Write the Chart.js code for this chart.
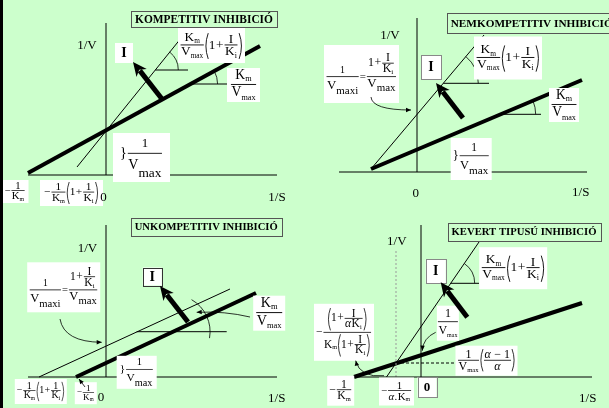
<!DOCTYPE html>
<html>
<head>
<meta charset="utf-8">
<script src="https://cdn.jsdelivr.net/npm/chart.js@4.4.1/dist/chart.umd.min.js"></script>
<style>
  html, body { margin: 0; padding: 0; background: #ccffcc; overflow: hidden; }
  #wrap { position: relative; width: 609px; height: 408px; }
</style>
</head>
<body>
<div id="wrap"><canvas id="c" width="609" height="408"></canvas></div>
<script>
/* ---------- Data: Lineweaver-Burk lines, in (1/S, 1/V) units ---------- */
// panel 1 - competitive
const compBaseX = [-7.8, 15.4], compBaseY = [0.2, 12.9];
const compInhX  = [-2.9, 8.4],  compInhY  = [0.8, 14.8];
// panel 2 - noncompetitive
const noncompBaseX = [-4.6, 16.5], noncompBaseY = [0.3, 9.2];
const noncompInhX  = [-4.6, 6.7],  noncompInhY  = [0.3, 13.7];
// panel 3 - uncompetitive
const uncompBaseX = [-3.0, 15.0], uncompBaseY = [0, 8.4];
const uncompInhX  = [-6.7, 12.4], uncompInhY  = [0, 8.8];
// panel 4 - mixed
const mixedBaseX = [-6.7, 16.1], mixedBaseY = [0, 7.4];
const mixedInhX  = [-3.45, 5.8], mixedInhY  = [0, 13.5];
const mixedGuideX = [-2.5, -2.5], mixedGuideY = [0, 12.6];
const mixedDashX  = [-2.5, 3.5],  mixedDashY  = [1.4, 1.4];

// axes extents per panel
const axisX    = { 1: [-7.8, 17.1], 2: [-7.8, 17.0], 3: [-7.8, 17.1], 4: [-6.7, 17.1] };
const axisYTop = { 1: 15.2, 2: 15.4, 3: 15.2, 4: 15.2 };

// inhibitor arrows (from -> to)
const inhFrom = { 1: [5.6, 7.6], 2: [4.6, 5.4], 3: [8.2, 5.5], 4: [4.63, 5.97] };
const inhTo   = { 1: [2.7, 11.3], 2: [1.9, 8.9], 3: [5.4, 9.1], 4: [1.97, 9.47] };

/* ---------- Layout ---------- */
const W = 609, H = 408, UNIT = 10;
const BG = '#ccffcc';
const ORIGIN = { 1: [106, 175], 2: [417, 172], 3: [106, 377], 4: [421, 377] };
const SERIF = '"Liberation Serif", "Times New Roman", serif';

const lines = {
  compInh:     { p: 1, xs: compInhX, ys: compInhY, w: 1 },
  compBase:    { p: 1, xs: compBaseX, ys: compBaseY, w: 4 },
  noncompInh:  { p: 2, xs: noncompInhX, ys: noncompInhY, w: 1 },
  noncompBase: { p: 2, xs: noncompBaseX, ys: noncompBaseY, w: 4 },
  uncompInh:   { p: 3, xs: uncompInhX, ys: uncompInhY, w: 1 },
  uncompBase:  { p: 3, xs: uncompBaseX, ys: uncompBaseY, w: 4 },
  mixedInh:    { p: 4, xs: mixedInhX, ys: mixedInhY, w: 1 },
  mixedBase:   { p: 4, xs: mixedBaseX, ys: mixedBaseY, w: 4 },
};

// slope markers: horizontal tick + angle arc where a line crosses height y
const slopeMarks = [
  { line: 'compInh', y: 10.5, x1: 8.2, r: 23 },
  { line: 'compBase', y: 9.1, x1: 12.1, r: 27 },
  { line: 'noncompInh', y: 8.87, x1: 7.2, r: 35 },
  { line: 'noncompBase', y: 5.77, x1: 12.4, r: 35 },
  { line: 'uncompBase', y: 4.53, x0: 3.07, x1: 12.07, r: 37, a0: -60, a1: 10 },
  { line: 'mixedInh', y: 9.37, x1: 5.8, r: 24 },
];

// thin curved pointers
const pointers = [
  { p: 2, from: [-4.6, 7.5], via: [-4.5, 6.2], to: [-0.6, 6.2] },
  { p: 3, from: [-4.6, 5.8], via: [-4.2, 3.5], to: [-0.43, 3.47] },
  { p: 3, from: [14.4, 6.0], via: [11.9, 6.6], to: [9.07, 6.47] },
  { p: 3, from: [-2.1, -1.0], via: [-2.4, -0.6], to: [-2.7, -0.2] },
  { p: 4, from: [1.47, 4.47], via: [0.2, 3.9], to: [0.13, 2.63] },
  { p: 4, from: [-3.7, 0.13], via: [-6.1, -0.1], to: [-6.53, 1.63] },
];

/* ---------- Tiny formula layout ---------- */
const AX = 0.27;
const T  = (s, o = {}) => ({ k: 't', s, size: o.size || 12, b: o.b, it: o.it });
const Sb = (base, sub, o = {}) => ({ k: 'sub', base: T(base, { size: o.size || 12 }), sub: T(sub, { size: (o.size || 12) * (o.r || 0.6) }), drop: o.drop || 2 });
const F  = (n, d, o = {}) => ({ k: 'f', n, d, gap: o.gap || 1.5 });
const P  = (i) => ({ k: 'p', i });
const R  = (...c) => ({ k: 'r', c });
const fontOf = (n) => (n.it ? 'italic ' : '') + (n.b ? 'bold ' : '') + n.size + 'px ' + SERIF;

const Km = () => Sb('K', 'm', { r: 0.55, drop: 2 });
const Vmax = () => Sb('V', 'max', { r: 0.55, drop: 2 });
const onePlus = (num) => R(T('1'), T('+'), F(num, Sb('K', 'i', { r: 0.6, drop: 2 })));
const alpha = () => T('α', { it: true });

const fA = () => R(F(Km(), Vmax()), P(onePlus(T('I'))));
const fB = () => F(Sb('K', 'm', { r: 0.6, drop: 2 }), Sb('V', 'max', { r: 0.6, drop: 3 }), { gap: 2.5 });
const fC = () => R(T('}', { size: 13 }), F(T('1'), Sb('V', 'max', { size: 13, r: 0.9, drop: 6 }), { gap: 5 }));
const fCBig = () => R(T('}', { size: 13 }), F(T('1'), Sb('V', 'max', { size: 13, r: 0.95, drop: 7 }), { gap: 6 }));
const fMinusKm = () => R(T('−'), F(T('1'), Km()));
const fE = () => R(T('−'), F(T('1'), Km()), P(onePlus(T('1'))));
const fVmaxi = () => R(
  F(T('1', { size: 10 }), Sb('V', 'maxi', { size: 13, r: 0.85, drop: 5 }), { gap: 4 }),
  T('=', { size: 11 }),
  F(onePlus(T('I')), Sb('V', 'max', { size: 13, r: 0.85, drop: 4 }), { gap: 2 })
);
const fOneVmax = () => F(T('1'), Sb('V', 'max', { r: 0.5, drop: 3 }), { gap: 4 });
const fH = () => R(F(T('1'), Vmax(), { gap: 2 }), P(F(R(alpha(), T(' − 1')), alpha(), { gap: 2 })));
const fJ = () => R(T('−'), F(
  P(R(T('1'), T('+'), F(T('I'), R(alpha(), Sb('K', 'i', { r: 0.55, drop: 2 }))))),
  R(Km(), P(onePlus(T('I')))), { gap: 2 }));
const fK = () => R(T('−'), F(T('1'), R(alpha(), T('.'), Km()), { gap: 2 }));
const fI = () => T('I', { b: true });
const f0 = () => T('0', { b: true });

function measure(ctx, n) {
  if (n.k === 't') {
    ctx.font = fontOf(n);
    n.w = ctx.measureText(n.s).width;
    n.up = (0.66 - AX) * n.size; n.dn = (AX + 0.02) * n.size;
  } else if (n.k === 'sub') {
    measure(ctx, n.base); measure(ctx, n.sub);
    n.w = n.base.w + n.sub.w; n.up = n.base.up;
    n.dn = Math.max(n.base.dn, AX * n.base.size + n.drop + 0.03 * n.sub.size);
  } else if (n.k === 'f') {
    measure(ctx, n.n); measure(ctx, n.d);
    n.w = Math.max(n.n.w, n.d.w) + 2;
    n.up = n.gap + n.n.up + n.n.dn; n.dn = n.gap + n.d.up + n.d.dn;
  } else if (n.k === 'p') {
    measure(ctx, n.i);
    n.pw = Math.max(3, (n.i.up + n.i.dn) * 0.14);
    n.w = n.i.w + 2 * n.pw + 1; n.up = n.i.up + 1; n.dn = n.i.dn + 1;
  } else {
    n.w = 0; n.up = 0; n.dn = 0;
    n.c.forEach(c => { measure(ctx, c); n.w += c.w + 0.5; n.up = Math.max(n.up, c.up); n.dn = Math.max(n.dn, c.dn); });
  }
}

function draw(ctx, n, x, ay) {
  if (n.k === 't') {
    ctx.font = fontOf(n); ctx.fillText(n.s, x, ay + AX * n.size);
  } else if (n.k === 'sub') {
    draw(ctx, n.base, x, ay);
    ctx.font = fontOf(n.sub); ctx.fillText(n.sub.s, x + n.base.w, ay + AX * n.base.size + n.drop);
  } else if (n.k === 'f') {
    ctx.fillRect(x + 0.5, ay - 0.4, n.w - 1, 0.8);
    draw(ctx, n.n, x + (n.w - n.n.w) / 2, ay - n.gap - n.n.dn);
    draw(ctx, n.d, x + (n.w - n.d.w) / 2, ay + n.gap + n.d.up);
  } else if (n.k === 'p') {
    const t = ay - n.up, b = ay + n.dn, pw = n.pw, m = (t + b) / 2;
    ctx.lineWidth = 0.8;
    ctx.beginPath();
    ctx.moveTo(x + pw, t); ctx.quadraticCurveTo(x - pw * 0.4, m, x + pw, b);
    ctx.moveTo(x + n.w - pw, t); ctx.quadraticCurveTo(x + n.w + pw * 0.4, m, x + n.w - pw, b);
    ctx.stroke();
    draw(ctx, n.i, x + pw + 0.5, ay);
  } else {
    let cx = x;
    n.c.forEach(c => { draw(ctx, c, cx, ay); cx += c.w + 0.5; });
  }
}

/* ---------- Labels (centres in panel units, box sizes in px) ---------- */
const labels = [
  { p: 1, k: 'title', x: 9.8, y: 15.6, w: 146, h: 16, s: 'KOMPETITIV INHIBICIÓ' },
  { p: 1, k: 'text', x: -1.9, y: 12.9, s: '1/V' },
  { p: 1, k: 'box', x: 1.8, y: 12.2, w: 18, h: 20, f: fI, sc: 14 / 12 },
  { p: 1, k: 'box', x: 10.55, y: 12.95, w: 67, h: 35, f: fA },
  { p: 1, k: 'box', x: 13.75, y: 9.0, w: 33, h: 34, f: fB },
  { p: 1, k: 'box', x: 3.55, y: 1.75, w: 57, h: 49, f: fCBig, sc: 1.08 },
  { p: 1, k: 'box', x: -9.1, y: -1.65, w: 27, h: 23, f: fMinusKm },
  { p: 1, k: 'box', x: -3.45, y: -1.8, w: 63, h: 26, f: fE },
  { p: 1, k: 'text', x: -0.25, y: -2.25, s: '0' },
  { p: 1, k: 'text', x: 17.1, y: -2.3, s: '1/S' },

  { p: 2, k: 'title', x: 11.47, y: 14.9, w: 170, h: 20, s: 'NEMKOMPETITIV INHIBICIÓ' },
  { p: 2, k: 'text', x: -2.7, y: 13.65, s: '1/V' },
  { p: 2, k: 'box', x: -5.55, y: 9.8, w: 75, h: 58, f: fVmaxi },
  { p: 2, k: 'box', x: 1.4, y: 10.5, w: 20, h: 24, f: fI, sc: 14 / 12, border: '#888' },
  { p: 2, k: 'box', x: 9.1, y: 11.4, w: 68, h: 43, f: fA },
  { p: 2, k: 'box', x: 14.7, y: 6.7, w: 30, h: 34, f: fB },
  { p: 2, k: 'box', x: 5.42, y: 1.3, w: 41, h: 42, f: fC },
  { p: 2, k: 'text', x: -0.13, y: -2.13, s: '0' },
  { p: 2, k: 'text', x: 16.37, y: -2.07, s: '1/S' },

  { p: 3, k: 'title', x: 10.02, y: 15.05, w: 151, h: 18, s: 'UNKOMPETITIV INHIBICIÓ' },
  { p: 3, k: 'text', x: -1.85, y: 12.83, s: '1/V' },
  { p: 3, k: 'box', x: -4.23, y: 8.97, w: 73, h: 50, f: fVmaxi },
  { p: 3, k: 'box', x: 4.62, y: 10.05, w: 19, h: 18, f: fI, sc: 14 / 12, border: '#333' },
  { p: 3, k: 'box', x: 16.32, y: 6.38, w: 32, h: 35, f: fB },
  { p: 3, k: 'box', x: 3.07, y: 0.47, w: 40, h: 33, f: fC },
  { p: 3, k: 'box', x: -6.52, y: -1.45, w: 52, h: 25, f: fE },
  { p: 3, k: 'box', x: -2.02, y: -1.62, w: 22, h: 22, f: fMinusKm },
  { p: 3, k: 'text', x: -0.5, y: -2.1, s: '0' },
  { p: 3, k: 'text', x: 17.07, y: -2.15, s: '1/S' },

  { p: 4, k: 'title', x: 10.3, y: 14.55, w: 153, h: 18, s: 'KEVERT TIPUSÚ INHIBICIÓ' },
  { p: 4, k: 'text', x: -2.42, y: 13.57, s: '1/V' },
  { p: 4, k: 'box', x: 1.47, y: 10.6, w: 20, h: 24, f: fI, sc: 14 / 12, border: '#888' },
  { p: 4, k: 'box', x: 9.22, y: 10.88, w: 68, h: 42, f: fA },
  { p: 4, k: 'box', x: 2.69, y: 5.38, w: 22, h: 35, f: fOneVmax, sc: 1.0 },
  { p: 4, k: 'box', x: 6.55, y: 1.63, w: 62, h: 30, f: fH },
  { p: 4, k: 'box', x: -7.7, y: 4.47, w: 60, h: 57, f: fJ },
  { p: 4, k: 'box', x: -8.03, y: -1.37, w: 27, h: 30, f: fMinusKm },
  { p: 4, k: 'box', x: -2.45, y: -1.45, w: 35, h: 28, f: fK },
  { p: 4, k: 'box', x: 0.6, y: -1.03, w: 19, h: 20, f: f0, sc: 13 / 12, border: '#888' },
  { p: 4, k: 'text', x: 16.67, y: -2.15, s: '1/S' },
];

/* ---------- Helpers ---------- */
const pts = (xs, ys) => xs.map((x, i) => ({ x, y: ys[i] }));
const ds = (p, xs, ys, o = {}) => ({
  data: pts(xs, ys), xAxisID: 'x' + p, yAxisID: 'y' + p, showLine: true,
  pointRadius: 0, borderColor: o.c || '#000', borderWidth: o.w || 1,
  borderDash: o.dash || [], fill: false, tension: 0,
});
const xAt = (L, y) => L.xs[0] + (y - L.ys[0]) * (L.xs[1] - L.xs[0]) / (L.ys[1] - L.ys[0]);

function fatArrow(ctx, x0, y0, x1, y1) {
  const a = Math.atan2(y1 - y0, x1 - x0), c = Math.cos(a), s = Math.sin(a);
  const L = 14, hw = 6.5, nb = 4;
  ctx.lineWidth = 5; ctx.lineCap = 'butt';
  ctx.beginPath(); ctx.moveTo(x0, y0); ctx.lineTo(x1 - c * (L - 3), y1 - s * (L - 3)); ctx.stroke();
  ctx.beginPath();
  ctx.moveTo(x1, y1);
  ctx.lineTo(x1 - c * L + s * hw, y1 - s * L - c * hw);
  ctx.lineTo(x1 - c * (L - nb), y1 - s * (L - nb));
  ctx.lineTo(x1 - c * L - s * hw, y1 - s * L + c * hw);
  ctx.closePath(); ctx.fill();
}

function pointer(ctx, p0, pc, p1) {
  ctx.lineWidth = 0.8;
  ctx.beginPath(); ctx.moveTo(p0[0], p0[1]); ctx.quadraticCurveTo(pc[0], pc[1], p1[0], p1[1]); ctx.stroke();
  const a = Math.atan2(p1[1] - pc[1], p1[0] - pc[0]), c = Math.cos(a), s = Math.sin(a);
  ctx.beginPath();
  ctx.moveTo(p1[0], p1[1]);
  ctx.lineTo(p1[0] - c * 5 + s * 2.2, p1[1] - s * 5 - c * 2.2);
  ctx.lineTo(p1[0] - c * 5 - s * 2.2, p1[1] - s * 5 + c * 2.2);
  ctx.closePath(); ctx.fill();
}

/* ---------- Chart ---------- */
const datasets = [];
[1, 2, 3, 4].forEach(p => {
  datasets.push(ds(p, axisX[p], [0, 0]));
  datasets.push(ds(p, [0, 0], [0, axisYTop[p]]));
});
datasets.push(ds(4, mixedGuideX, mixedGuideY, { c: '#999', dash: [2, 2] }));
datasets.push(ds(4, mixedDashX, mixedDashY, { dash: [3, 2] }));
Object.values(lines).forEach(L => datasets.push(ds(L.p, L.xs, L.ys, { w: L.w })));

const scales = {};
[1, 2, 3, 4].forEach(p => {
  const [ox, oy] = ORIGIN[p];
  scales['x' + p] = { type: 'linear', axis: 'x', position: 'bottom', display: false, min: -ox / UNIT, max: (W - ox) / UNIT };
  scales['y' + p] = { type: 'linear', axis: 'y', position: 'left', display: false, min: -(H - oy) / UNIT, max: oy / UNIT };
});

const annotate = {
  id: 'annotate',
  beforeDraw(chart) {
    const ctx = chart.ctx;
    ctx.save(); ctx.fillStyle = BG; ctx.fillRect(0, 0, W, H); ctx.restore();
  },
  afterDatasetsDraw(chart) {
    const ctx = chart.ctx;
    const px = (p, x) => chart.scales['x' + p].getPixelForValue(x);
    const py = (p, y) => chart.scales['y' + p].getPixelForValue(y);
    ctx.save();
    ctx.strokeStyle = '#000'; ctx.fillStyle = '#000';

    // slope markers
    slopeMarks.forEach(m => {
      const L = lines[m.line], p = L.p;
      const cx = px(p, xAt(L, m.y)), cy = py(p, m.y);
      ctx.lineWidth = 1;
      ctx.beginPath(); ctx.moveTo(m.x0 !== undefined ? px(p, m.x0) : cx, cy); ctx.lineTo(px(p, m.x1), cy); ctx.stroke();
      const ang = Math.atan2(py(p, L.ys[1]) - py(p, L.ys[0]), px(p, L.xs[1]) - px(p, L.xs[0]));
      const a0 = m.a0 !== undefined ? m.a0 * Math.PI / 180 : ang;
      const a1 = m.a1 !== undefined ? m.a1 * Math.PI / 180 : 0;
      ctx.lineWidth = 0.8;
      ctx.beginPath(); ctx.arc(cx, cy, m.r, a0, a1); ctx.stroke();
    });

    // labels
    labels.forEach(L => {
      const cx = px(L.p, L.x), cy = py(L.p, L.y);
      if (L.k === 'text') {
        ctx.font = '13px ' + SERIF; ctx.textAlign = 'center'; ctx.textBaseline = 'middle';
        ctx.fillStyle = '#000'; ctx.fillText(L.s, cx, cy);
        return;
      }
      if (L.k === 'title') {
        ctx.fillStyle = BG; ctx.fillRect(cx - L.w / 2, cy - L.h / 2, L.w, L.h);
        ctx.strokeStyle = '#555'; ctx.lineWidth = 1;
        ctx.strokeRect(Math.round(cx - L.w / 2) + 0.5, Math.round(cy - L.h / 2) + 0.5, L.w, L.h);
        ctx.font = 'bold 11px ' + SERIF;
        const fs = Math.min(12, 11 * (L.w - 8) / ctx.measureText(L.s).width);
        ctx.font = 'bold ' + fs.toFixed(2) + 'px ' + SERIF;
        ctx.textAlign = 'center'; ctx.textBaseline = 'middle';
        ctx.fillStyle = '#000'; ctx.fillText(L.s, cx, cy + 1);
        return;
      }
      ctx.fillStyle = '#fff'; ctx.fillRect(cx - L.w / 2, cy - L.h / 2, L.w, L.h);
      if (L.border) {
        ctx.strokeStyle = L.border; ctx.lineWidth = 1;
        ctx.strokeRect(Math.round(cx - L.w / 2) + 0.5, Math.round(cy - L.h / 2) + 0.5, L.w, L.h);
      }
      const n = L.f();
      ctx.textAlign = 'left'; ctx.textBaseline = 'alphabetic';
      measure(ctx, n);
      const s = L.sc || Math.min((L.w - 4) / n.w, (L.h - 4) / (n.up + n.dn));
      ctx.save();
      ctx.translate(cx - n.w * s / 2, cy - (n.up + n.dn) * s / 2 + n.up * s);
      ctx.scale(s, s);
      ctx.fillStyle = '#000'; ctx.strokeStyle = '#000';
      draw(ctx, n, 0, 0);
      ctx.restore();
    });

    // inhibitor arrows
    ctx.strokeStyle = '#000'; ctx.fillStyle = '#000';
    [1, 2, 3, 4].forEach(p => {
      fatArrow(ctx, px(p, inhFrom[p][0]), py(p, inhFrom[p][1]), px(p, inhTo[p][0]), py(p, inhTo[p][1]));
    });

    // pointers
    pointers.forEach(q => {
      const P2 = (v) => [px(q.p, v[0]), py(q.p, v[1])];
      pointer(ctx, P2(q.from), P2(q.via), P2(q.to));
    });
    ctx.restore();
  },
  afterDraw(chart) {
    const ctx = chart.ctx;
    ctx.save(); ctx.fillStyle = '#000'; ctx.fillRect(0, 0, 3, H); ctx.restore();
  }
};

window.myChart = new Chart(document.getElementById('c').getContext('2d'), {
  type: 'scatter',
  data: { datasets },
  options: {
    responsive: false,
    animation: false,
    events: [],
    layout: { padding: 0 },
    scales,
    plugins: { legend: { display: false }, tooltip: { enabled: false } }
  },
  plugins: [annotate]
});
</script>
</body>
</html>
